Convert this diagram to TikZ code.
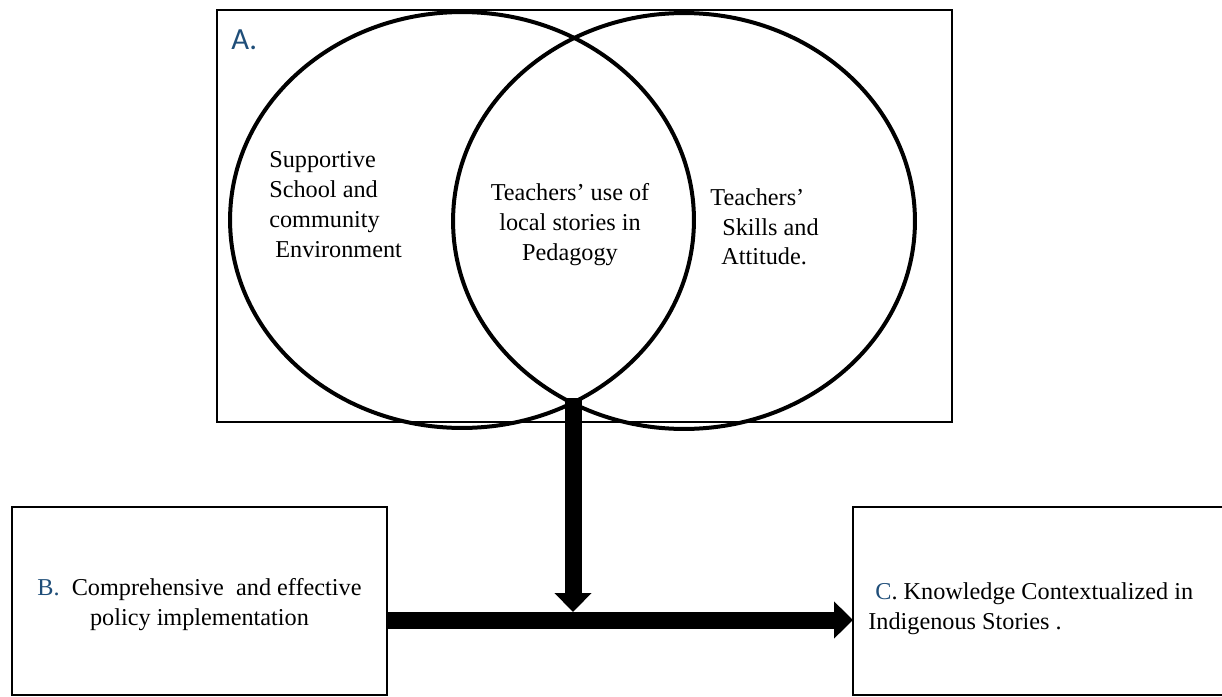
\documentclass[tikz,border=0pt]{standalone}
\usepackage{fontspec}
\setmainfont{Liberation Serif}
\newfontfamily\labelfont{Carlito}
\usepackage{tikz}
\usetikzlibrary{arrows.meta,shapes.geometric,calc}
\definecolor{lbl_blue}{RGB}{31, 78, 121}
\tikzstyle{venn}=[ellipse,draw=black,line width=0.08cm,inner sep=0pt,outer sep=0pt]
\tikzstyle{box}=[rectangle,draw=black,line width=0.05cm,inner sep=0pt,outer sep=0pt]
\tikzstyle{txt}=[inner sep=0pt,font=\fontsize{13.8}{17}\selectfont]
\tikzstyle{fat}=[line width=0.34cm,-{Triangle[width=0.72cm,length=0.38cm]}]
\tikzstyle{none}=[]

\begin{document}
\begin{tikzpicture}[x=0.02cm, y=-0.02cm]
            \useasboundingbox (0, 0) rectangle (1222, 696);
            \node [style=box, minimum width=14.7cm, minimum height=8.24cm] (0) at (584.5, 216) {};
            \node [style=venn, minimum width=9.28cm, minimum height=8.32cm] (1) at (462, 220) {};
            \node [style=venn, minimum width=9.24cm, minimum height=8.32cm] (2) at (684, 221) {};
            \node [style=box, minimum width=7.5cm, minimum height=3.76cm] (4) at (199.5, 601) {};
            \node [style=box, minimum width=7.74cm, minimum height=3.76cm] (5) at (1046.5, 601) {};
            \node [style=none] (7) at (573, 398) {};
            \node [style=none] (8) at (573, 612) {};
            \node [style=none] (9) at (573, 620) {};
            % labels
            \node [anchor=base west, inner sep=0pt, text=lbl_blue, font=\labelfont\fontsize{17.5}{20}\selectfont] (10) at (231, 50) {A.};
            \node [style=txt, anchor=north west, align=left] (11) at (269, 151) {Supportive\\School and\\community\\\hspace*{0.12cm}Environment};
            \node [style=txt, anchor=north, align=center] (12) at (570, 183) {Teachers’ use of\\local stories in\\Pedagogy};
            \node [style=txt, anchor=north west, align=left] (13) at (710, 188) {Teachers’\\\hspace*{0.24cm}Skills and\\\hspace*{0.22cm}Attitude.};
            \node [style=txt, anchor=north, align=center] (14) at (199.5, 578) {\textcolor{lbl_blue}{B.}\ \ Comprehensive\ \ and effective\\policy implementation};
            \node [style=txt, anchor=north west, align=left] (15) at (868, 582) {\hspace*{0.14cm}\textcolor{lbl_blue}{C}. Knowledge Contextualized in\\Indigenous Stories .};
            % arrows
            \draw [style=fat] (7.center) to (8.center);
            \draw [style=fat] (4.east |- 9.center) to (5.west |- 9.center);
    \end{tikzpicture}
\end{document}
